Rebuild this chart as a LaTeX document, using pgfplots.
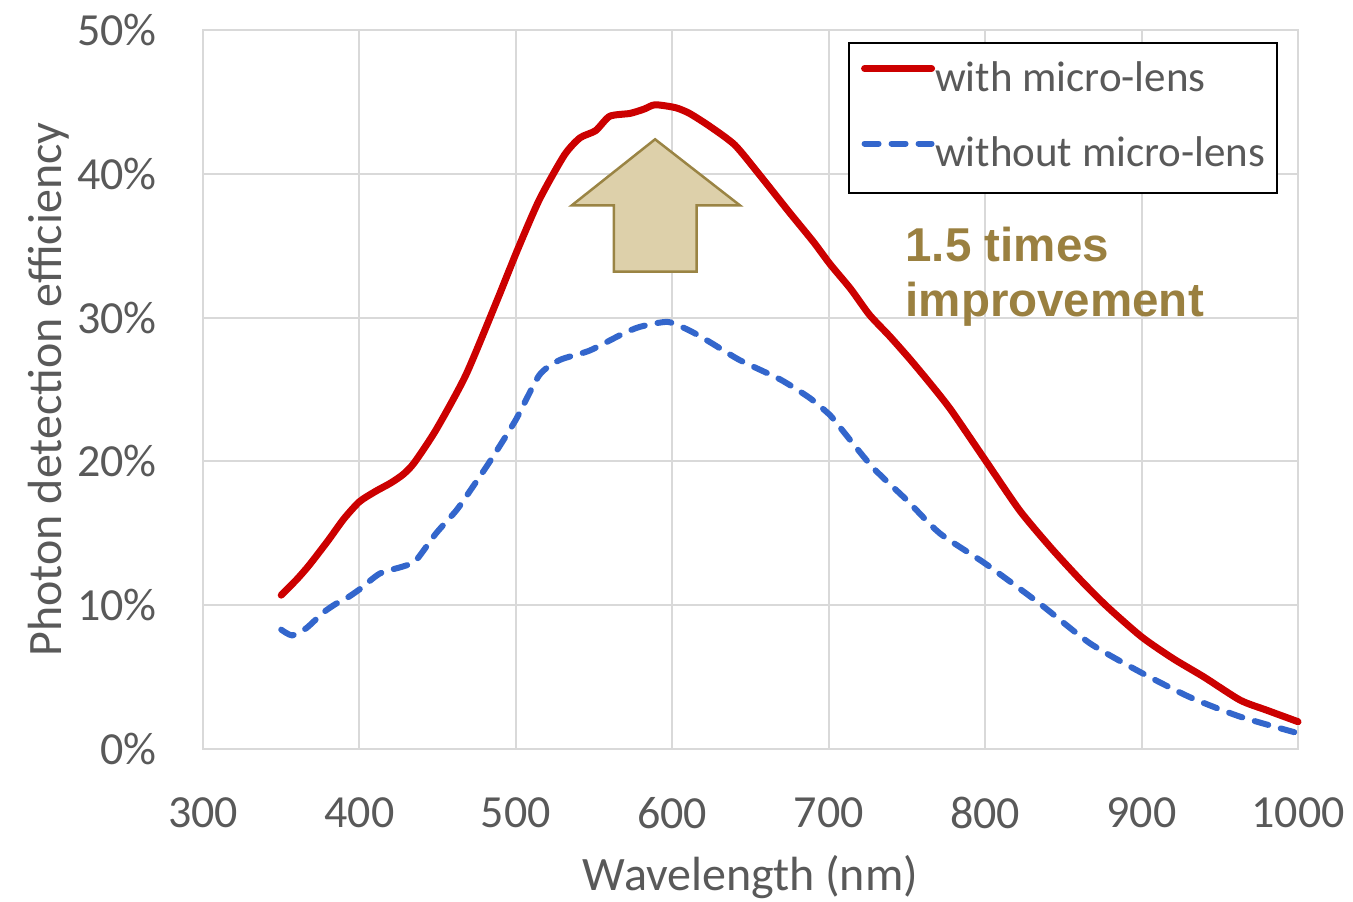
\documentclass[border=0pt]{standalone}
\usepackage{fontspec}
\setmainfont{Carlito}
\newfontfamily\arialfont{Liberation Sans}
\usepackage{pgfplots}
\pgfplotsset{compat=1.18}
\definecolor{txtgray}{HTML}{595959}
\definecolor{gridgray}{HTML}{D9D9D9}
\definecolor{redline}{HTML}{CC0000}
\definecolor{blueline}{HTML}{3366CC}
\definecolor{arrowfill}{HTML}{DDD0AA}
\definecolor{arrowdraw}{HTML}{9A8444}
\definecolor{goldtxt}{HTML}{9A8040}
\newcommand\bigfont{\fontsize{46bp}{55bp}\selectfont}
\newcommand\labfont{\fontsize{48bp}{57bp}\selectfont}
\newcommand\legfont{\fontsize{43bp}{52bp}\selectfont}
\begin{document}
\begin{tikzpicture}
\begin{axis}[
  scale only axis,
  width=1095bp, height=719bp,
  xmin=300, xmax=1000, ymin=0, ymax=50,
  xtick={300,400,...,1000},
  ytick={0,10,...,50},
  major tick length=0pt,
  grid=major,
  grid style={draw=gridgray, line width=2bp},
  axis line style={draw=gridgray, line width=2bp},
  clip=false,
  /pgf/number format/assume math mode=true,
  /pgf/number format/1000 sep={},
  yticklabel={\pgfmathprintnumber{\tick}\%},
  ticklabel style={font=\bigfont, text=txtgray, inner sep=0pt},
  yticklabel style={anchor=east, xshift=-46bp},
  xticklabel style={anchor=north, yshift=-48bp},
  xlabel={Wavelength (nm)},
  ylabel={Photon detection efficiency},
  label style={font=\labfont, text=txtgray, inner sep=0pt},
  xlabel style={at={(axis description cs:0.5,-0.1961)}, anchor=base},
  ylabel style={at={(axis description cs:-0.1288,0.5)}, anchor=base, rotate=0},
  legend cell align=left,
  legend image code/.code={\draw[#1] (0bp,12bp) -- (67bp,12bp);},
  legend style={at={(0.5891,0.9833)}, anchor=north west, draw=black, line width=2bp,
    fill=white, inner xsep=12bp, inner ysep=18bp, row sep=36bp,
    font=\legfont, text=txtgray,
    nodes={inner sep=0pt, text height=30bp, text depth=9bp},
    /tikz/every even column/.append style={column sep=9bp}},
]
\addplot[redline, line width=7bp, line join=round, line cap=round, smooth, tension=0.4] coordinates {
(350,10.7) (360,11.8) (368,12.8) (380,14.5) (390,16.0) (400,17.2) (410,17.9) (420,18.5)
(428,19.1) (435,19.9) (449,22.2) (468,26.0) (488,31.2) (501,34.7) (515,38.2) (531,41.3)
(541,42.5) (551,43.0) (560,44.0) (573,44.2) (582,44.5) (589,44.8) (602,44.6) (611,44.2)
(624,43.3) (640,42.0) (656,39.9) (675,37.3) (690,35.3) (701,33.7) (714,32.0) (726,30.2)
(739,28.7) (752,27.1) (765,25.4) (778,23.6) (800,20.1) (822,16.6) (842,14.0) (861,11.75)
(878,9.9) (900,7.8) (920,6.3) (940,5.0) (963,3.4) (980,2.7) (1000,1.9)
};
\addlegendentry{with micro-lens}
\addplot[blueline, line width=6bp, line join=round, line cap=round, dash pattern=on 14bp off 13bp, smooth, tension=0.4] coordinates {
(350,8.3) (357,7.9) (366,8.4) (377,9.5) (385,10.1) (392,10.5) (400,11.1) (413,12.2)
(428,12.7) (436,13.1) (449,15.0) (462,16.6) (471,18.0) (484,20.1) (500,22.9) (515,26.0)
(528,27.05) (547,27.7) (567,28.8) (579,29.35) (597,29.7) (611,29.1) (624,28.3) (643,27.05)
(669,25.7) (688,24.4) (701,23.2) (707,22.4) (728,19.6) (750,17.3) (771,15.0) (800,12.9)
(835,10.1) (867,7.35) (900,5.3) (931,3.6) (963,2.25) (1000,1.1)
};
\addlegendentry{without micro-lens}
\draw[fill=arrowfill, draw=arrowdraw, line width=2.5bp, line join=miter]
  (axis cs:589,42.4) -- (axis cs:643.3,37.8) -- (axis cs:615.6,37.8) -- (axis cs:615.6,33.2)
  -- (axis cs:562.7,33.2) -- (axis cs:562.7,37.8) -- (axis cs:535.7,37.8) -- cycle;
\node[anchor=base west, inner sep=0pt, text=goldtxt, font=\arialfont\bfseries\fontsize{47.5bp}{55bp}\selectfont]
  at (axis cs:749,33.87) {1.5 times};
\node[anchor=base west, inner sep=0pt, text=goldtxt, font=\arialfont\bfseries\fontsize{47.5bp}{55bp}\selectfont]
  at (axis cs:749,30.1) {improvement};
\end{axis}
\pgfresetboundingbox
\path[use as bounding box] ([xshift=-203bp,yshift=-152bp]current axis.south west) rectangle ([xshift=55bp,yshift=30bp]current axis.north east);
\end{tikzpicture}
\end{document}
